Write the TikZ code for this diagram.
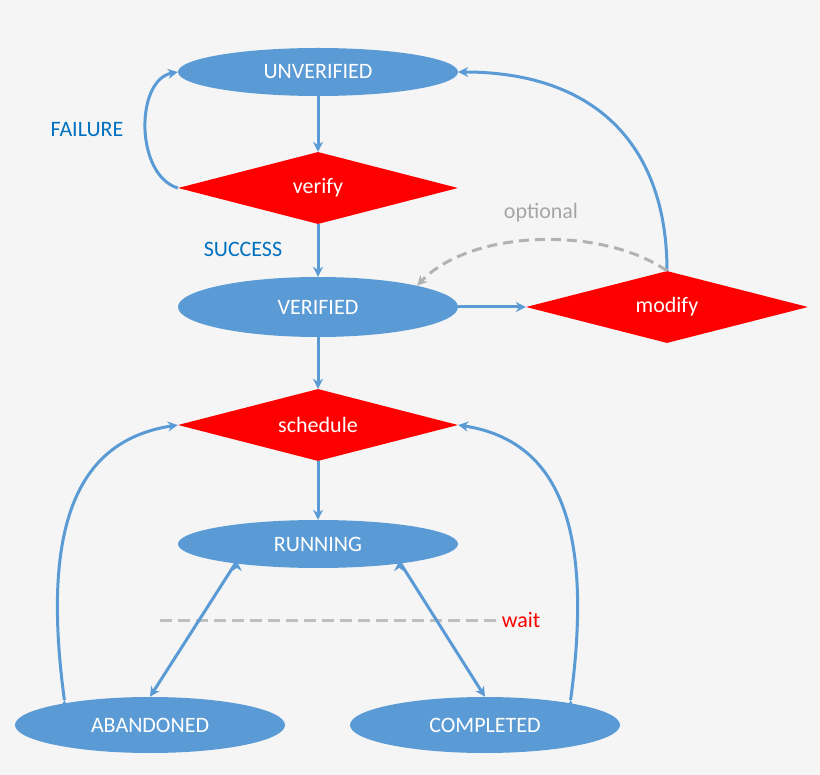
\documentclass[tikz,border=0pt]{standalone}
\usepackage{fontspec}
\setmainfont{Carlito}
\usetikzlibrary{shapes.geometric,arrows.meta}
\definecolor{eb}{HTML}{5B9BD5}
\definecolor{lb}{HTML}{0070C0}
\begin{document}
\begin{tikzpicture}[x=1pt,y=-1pt,
  st/.style={ellipse,fill=eb,text=white,minimum width=280pt,minimum height=48pt,inner sep=0pt,font=\fontsize{22}{24}\selectfont},
  ac/.style={diamond,aspect=3.9,fill=red,text=white,minimum width=280pt,minimum height=72pt,inner sep=0pt,font=\fontsize{22}{24}\selectfont},
  ar/.style={draw=eb,line width=3pt,-{Stealth[length=10pt,width=10pt]}},
  da/.style={draw=gray!60,line width=3pt,dash pattern=on 10pt off 6pt,-{Stealth[length=10pt,width=10pt]}}]
\fill[black!4] (0,0) rectangle (820,775);
\useasboundingbox (0,0) rectangle (820,775);
\node[st] (unv) at (318,72) {UNVERIFIED};
\node[ac] (ver) at (318,188) {verify};
\node[st,minimum height=60pt] (vfd) at (318,307) {VERIFIED};
\node[ac,minimum width=282pt] (mod) at (667,307) {modify};
\node[ac] (sch) at (318,425) {schedule};
\node[st] (run) at (318,544) {RUNNING};
\node[st,minimum width=270pt,minimum height=56pt] (abn) at (150,725) {ABANDONED};
\node[st,minimum width=270pt,minimum height=56pt] (cmp) at (485,725) {COMPLETED};
\node[text=lb,font=\fontsize{22}{24}\selectfont] (fl) at (87,130) {FAILURE};
\node[text=lb,font=\fontsize{22}{24}\selectfont] (sc) at (243,249) {SUCCESS};
\node[text=gray!70,font=\fontsize{22}{24}\selectfont] (op) at (541,213) {optional};
\node[text=red,font=\fontsize{22}{24}\selectfont] (wt) at (521,620) {wait};
\coordinate (w1) at (160,620);
\draw[gray!50,line width=3pt,dash pattern=on 12pt off 6pt] (w1) -- (wt.west);
\draw[ar] (unv) -- (ver);
\draw[ar] (ver.west) .. controls (135,175) and (135,80) .. (unv.west);
\draw[ar] (ver) -- (vfd);
\draw[ar] (vfd.east) -- (mod.west);
\draw[ar] (mod.north) .. controls (667,150) and (600,72) .. (unv.east);
\draw[da] (mod.north) .. controls (600,225) and (470,230) .. (vfd.north east);
\draw[ar] (vfd) -- (sch);
\draw[ar] (sch) -- (run);
\draw[ar] (run.south west) ++(18,0) coordinate (r1);
\draw[ar] (r1) -- (abn.north);
\draw[ar] (run.south east) ++(-18,0) coordinate (r2);
\draw[ar] (r2) -- (cmp.north);
\draw[ar] (abn.north west) ++(10,-5) coordinate (a1);
\draw[ar] (a1) .. controls (40,520) and (80,440) .. (sch.west);
\draw[ar] (cmp.north east) ++(-10,-5) coordinate (c1);
\draw[ar] (c1) .. controls (595,520) and (555,440) .. (sch.east);
\end{tikzpicture}
\end{document}
